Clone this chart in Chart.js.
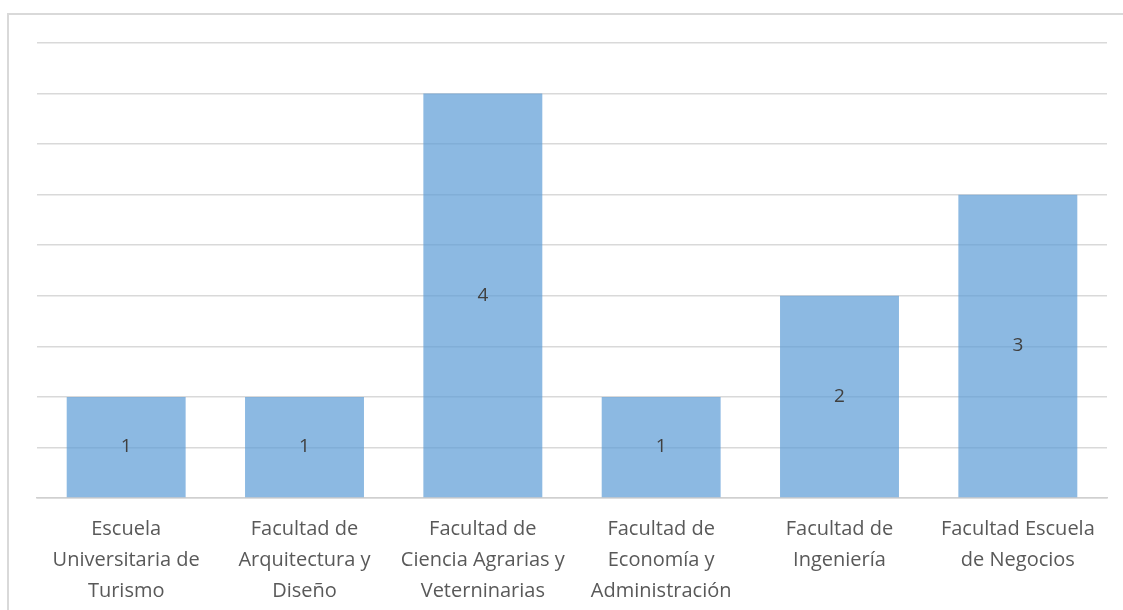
<!DOCTYPE html>
<html>
<head>
<meta charset="utf-8">
<script src="https://cdn.jsdelivr.net/npm/chart.js@4"></script>
<style>
  html, body { margin: 0; padding: 0; background: #fff; }
  #wrap { position: relative; width: 1123px; height: 610px; overflow: hidden; }
  #frame { position: absolute; left: 7px; top: 13px; width: 1130px; height: 620px; border: 2px solid #d9d9d9; box-sizing: border-box; }
  canvas { position: absolute; left: 0; top: 0; }
</style>
</head>
<body>
<div id="wrap">
  <div id="frame"></div>
  <canvas id="chart" width="1123" height="617"></canvas>
</div>
<script>
const categories = [
    ['Escuela', 'Universitaria de', 'Turismo'],
    ['Facultad de', 'Arquitectura y', 'Diseño'],
    ['Facultad de', 'Ciencia Agrarias y', 'Veterninarias'],
    ['Facultad de', 'Economía y', 'Administración'],
    ['Facultad de', 'Ingeniería'],
    ['Facultad Escuela', 'de Negocios']
];
const values = [1, 1, 4, 1, 2, 3];
const yMax = 4.5;
const yStep = 0.5;

// value labels centered inside each bar
const barLabels = {
    id: 'barLabels',
    afterDatasetsDraw(chart) {
        const ctx = chart.ctx;
        const meta = chart.getDatasetMeta(0);
        ctx.save();
        ctx.fillStyle = '#404040';
        ctx.font = '19px "Open Sans"';
        ctx.textAlign = 'center';
        ctx.textBaseline = 'middle';
        meta.data.forEach(function(bar, i) {
            ctx.fillText(String(values[i]), bar.x, (bar.y + bar.base) / 2);
        });
        ctx.restore();
    }
};

new Chart(document.getElementById('chart'), {
    type: 'bar',
    data: {
        labels: categories,
        datasets: [{
            data: values,
            backgroundColor: 'rgba(91, 155, 213, 0.7)',
            borderWidth: 0,
            categoryPercentage: 0.667,
            barPercentage: 1
        }]
    },
    options: {
        responsive: false,
        animation: false,
        layout: { padding: { left: 37, right: 16, top: 43, bottom: 2 } },
        plugins: { legend: { display: false }, tooltip: { enabled: false } },
        scales: {
            x: {
                grid: { display: false },
                border: { color: '#d0d0d0', width: 1.5 },
                ticks: {
                    color: '#595959',
                    font: { family: '"Open Sans"', size: 20, lineHeight: 1.55 },
                    maxRotation: 0,
                    autoSkip: false,
                    padding: 8
                }
            },
            y: {
                min: 0,
                max: yMax,
                ticks: { display: false, stepSize: yStep },
                grid: { color: '#d9d9d9', lineWidth: 1.5, drawTicks: false },
                border: { display: false }
            }
        }
    },
    plugins: [barLabels]
});
</script>
</body>
</html>
